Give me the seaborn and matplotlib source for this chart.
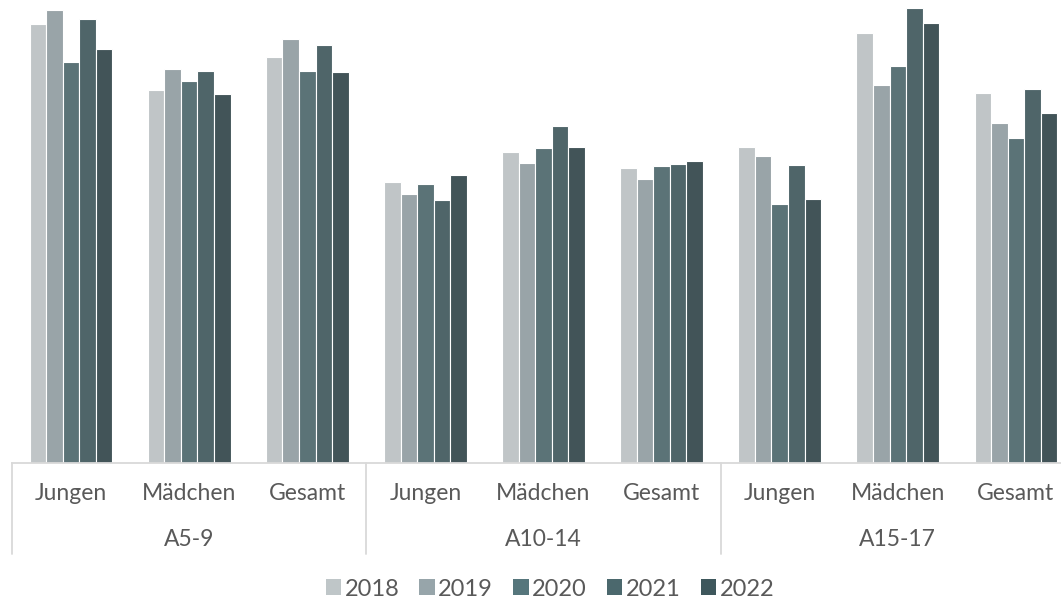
import matplotlib
matplotlib.use("Agg")
import matplotlib.pyplot as plt
import matplotlib.transforms as mtransforms
from matplotlib.patches import Patch
import seaborn as sns
import pandas as pd

# Data (no y scale shown)
groups = ["A5-9", "A10-14", "A15-17"]
genders = ["Jungen", "Mädchen", "Gesamt"]
years = ["2018", "2019", "2020", "2021", "2022"]

# order: A5-9 J/M/G, A10-14 J/M/G, A15-17 J/M/G
v2018 = [43.7, 37.1, 40.4, 28.0, 31.0, 29.4, 31.5, 42.8, 36.8]
v2019 = [45.1, 39.2, 42.2, 26.8, 29.9, 28.3, 30.6, 37.6, 33.9]
v2020 = [39.9, 38.0, 39.0, 27.8, 31.4, 29.6, 25.8, 39.5, 32.4]
v2021 = [44.2, 39.0, 41.6, 26.2, 33.6, 29.8, 29.7, 45.3, 37.2]
v2022 = [41.2, 36.7, 38.9, 28.7, 31.5, 30.1, 26.3, 43.8, 34.8]

colors = ["#bfc6c8", "#97a5aa", "#56767c", "#4b686d", "#3e575c"]
TEXT = "#595959"
LINE = "#d9d9d9"

cats = [g + "|" + s for g in groups for s in genders]
values = {"2018": v2018, "2019": v2019, "2020": v2020, "2021": v2021, "2022": v2022}

rows = []
for y in years:
    for c, v in zip(cats, values[y]):
        rows.append({"cat": c, "year": y, "val": v})
df = pd.DataFrame(rows)

sns.set_style("white")
plt.rcParams["font.family"] = ["Lato", "DejaVu Sans"]

fig = plt.figure(figsize=(10.61, 6.01), dpi=100)
ax = fig.add_axes([12 / 1061, 1 - 463 / 601, 1063 / 1061, 463 / 601])

sns.barplot(data=df, x="cat", y="val", hue="year", order=cats, hue_order=years,
            palette=colors, width=0.7, edgecolor="white", linewidth=0.8,
            legend=False, ax=ax)

ax.set_xlim(-0.5, 8.5)
ax.set_ylim(0, 46.1)
ax.set_xticks([])
ax.set_yticks([])
ax.set_xlabel("")
ax.set_ylabel("")
for s in ["top", "left", "right"]:
    ax.spines[s].set_visible(False)
ax.spines["bottom"].set_color(LINE)
ax.spines["bottom"].set_linewidth(1.3)

trans = mtransforms.blended_transform_factory(ax.transData, ax.transAxes)

# category labels
for i, c in enumerate(cats):
    ax.text(i, -30 / 463, c.split("|")[1], transform=trans, ha="center", va="center",
            fontsize=16.5, color=TEXT)

# group labels + separators
for k, g in enumerate(groups):
    ax.text(3 * k + 1, -76 / 463, g, transform=trans, ha="center", va="center",
            fontsize=16.5, color=TEXT)
    ax.plot([3 * k - 0.5, 3 * k - 0.5], [0, -91 / 463], transform=trans,
            color=LINE, lw=1.3, clip_on=False)

handles = [Patch(facecolor=c, edgecolor="none") for c in colors]
fig.legend(handles, years, loc="center", bbox_to_anchor=(550 / 1061, 1 - 589 / 601),
           ncol=5, frameon=False, handlelength=0.65, handleheight=0.65,
           handletextpad=0.15, columnspacing=0.85, fontsize=17, labelcolor=TEXT)

fig.savefig("out.png", dpi=100)
